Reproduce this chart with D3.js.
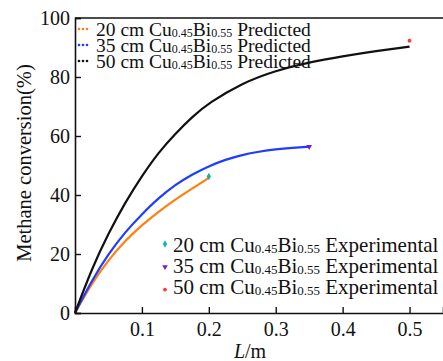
<!DOCTYPE html>
<html>
<head>
<meta charset="utf-8">
<script src="https://cdn.jsdelivr.net/npm/d3@7"></script>
</head>
<body style="margin:0">
<div id="chart"></div>
<script>
// --- data ---
var lengths20 = [0, 0.025, 0.05, 0.075, 0.1, 0.125, 0.15, 0.175, 0.2];
var conv20    = [0, 10, 18, 24.5, 29.8, 34.4, 38.5, 42.2, 45.8];

var lengths35 = [0, 0.025, 0.05, 0.075, 0.1, 0.125, 0.15, 0.175, 0.2, 0.225, 0.25, 0.275, 0.3, 0.325, 0.35];
var conv35    = [0, 11, 20, 27.5, 33.5, 39, 43.5, 47, 49.8, 52, 53.6, 54.7, 55.5, 56, 56.4];

var lengths50 = [0, 0.025, 0.05, 0.075, 0.1, 0.125, 0.15, 0.175, 0.2, 0.25, 0.3, 0.35, 0.4, 0.45, 0.5];
var conv50    = [0, 15, 27, 37.5, 46.5, 54.5, 60.8, 66.5, 71.2, 78, 82.2, 85, 87, 88.8, 90.3];

var expLengths = [0.2, 0.35, 0.5];
var expConv    = [46.3, 56.4, 92.3];

var seriesNames = ['20 cm', '35 cm', '50 cm'];
var xTicks = [0.1, 0.2, 0.3, 0.4, 0.5];
var yTicks = [0, 20, 40, 60, 80, 100];

var lineColours = ['#ff8010', '#1f3cff', '#111111'];
var expColours  = ['#16b3a8', '#6a1fd8', '#ff3b3b'];

var fontName = 'Times New Roman';

var margin = { top: 18, left: 75 };
var plotH  = 295;

var svg = d3.select('#chart').append('svg')
            .attr('width', 443)
            .attr('height', 361);

var g = svg.append('g')
           .attr('transform', 'translate(' + margin.left + ',' + margin.top + ')');

var xScale = d3.scaleLinear().domain([0, 0.55]).range([0, 368]);
var yScale = d3.scaleLinear().domain([0, 100]).range([plotH, 0]);

// curves
var line = d3.line()
             .x(function (d) { return xScale(d[0]); })
             .y(function (d) { return yScale(d[1]); })
             .curve(d3.curveBasis);

var curves = [d3.zip(lengths20, conv20), d3.zip(lengths35, conv35), d3.zip(lengths50, conv50)];

curves.forEach(function (c, i) {
    g.append('path')
     .datum(c)
     .attr('d', line)
     .attr('fill', 'none')
     .attr('stroke', lineColours[i])
     .attr('stroke-width', 2.2);
});

// experimental points
var symbols = [d3.symbolDiamond, d3.symbolTriangle, d3.symbolCircle];
var symbolSizes = [16, 14, 12];
function symbolTransform (i, x, y) {
    var t = 'translate(' + x + ',' + y + ')';
    if (i == 1) t += ' rotate(180)';
    return t;
}

for (var i = 0; i < expLengths.length; i++)
{
    g.append('path')
     .attr('d', d3.symbol().type(symbols[i]).size(symbolSizes[i]))
     .attr('transform', symbolTransform(i, xScale(expLengths[i]), yScale(expConv[i])))
     .attr('fill', expColours[i]);
}

// axes (ticks pointing inward)
var xAxis = d3.axisBottom(xScale).tickValues(xTicks).tickSize(-6).tickPadding(9)
              .tickFormat(d3.format('.1f'));
var yAxis = d3.axisLeft(yScale).tickValues(yTicks).tickSize(-6).tickPadding(5);

var gx = g.append('g').attr('transform', 'translate(0,' + plotH + ')').call(xAxis);
var gy = g.append('g').call(yAxis);

[gx, gy].forEach(function (a) {
    a.attr('font-family', fontName).attr('font-size', 20);
    a.select('.domain').attr('stroke', '#111').attr('stroke-width', 1.6);
    a.selectAll('.tick line').attr('stroke', '#111').attr('stroke-width', 1.4);
    a.selectAll('.tick text').attr('fill', '#111');
});
gy.select('.tick text').text('0');

// top frame line
g.append('line')
 .attr('x1', 0).attr('x2', 400)
 .attr('y1', 0).attr('y2', 0)
 .attr('stroke', '#111')
 .attr('stroke-width', 1.6);

// axis titles
svg.append('text')
   .attr('transform', 'translate(31,163) rotate(-90)')
   .attr('text-anchor', 'middle')
   .attr('font-family', fontName)
   .attr('font-size', 20.5)
   .attr('fill', '#111')
   .text('Methane conversion(%)');

var xt = svg.append('text')
            .attr('x', 250)
            .attr('y', 358)
            .attr('text-anchor', 'middle')
            .attr('font-family', fontName)
            .attr('font-size', 20)
            .attr('fill', '#111');
xt.append('tspan').attr('font-style', 'italic').text('L');
xt.append('tspan').text('/m');

// legend text with subscripts
function legendLabel (sel, name, suffix, subSize)
{
    sel.append('tspan').text(name + ' Cu');
    sel.append('tspan').attr('font-size', subSize).attr('dy', 1).text('0.45');
    sel.append('tspan').attr('dy', -1).text('Bi');
    sel.append('tspan').attr('font-size', subSize).attr('dy', 1).text('0.55');
    sel.append('tspan').attr('dy', -1).text(' ' + suffix);
}

// predicted legend (top left)
for (var i = 0; i < seriesNames.length; i++)
{
    var yy = 36 + i * 16;
    for (var k = 0; k < 3; k++)
    {
        svg.append('circle')
           .attr('cx', 79 + k * 4)
           .attr('cy', yy - 7)
           .attr('r', 1.3)
           .attr('fill', lineColours[i]);
    }
    var t = svg.append('text')
               .attr('x', 96)
               .attr('y', yy)
               .attr('font-family', fontName)
               .attr('font-size', 19.5)
               .attr('fill', '#111');
    legendLabel(t, seriesNames[i], 'Predicted', 12);
}

// experimental legend (bottom right)
var markerLift = [8, 6, 4];
for (var i = 0; i < seriesNames.length; i++)
{
    var yy = 252 + i * 20.8;
    svg.append('path')
       .attr('d', d3.symbol().type(symbols[i]).size(symbolSizes[i]))
       .attr('transform', symbolTransform(i, 165, yy - markerLift[i]))
       .attr('fill', expColours[i]);
    var t = svg.append('text')
               .attr('x', 173)
               .attr('y', yy)
               .attr('font-family', fontName)
               .attr('font-size', 21)
               .attr('fill', '#111');
    legendLabel(t, seriesNames[i], 'Experimental', 13);
}
</script>
</body>
</html>
